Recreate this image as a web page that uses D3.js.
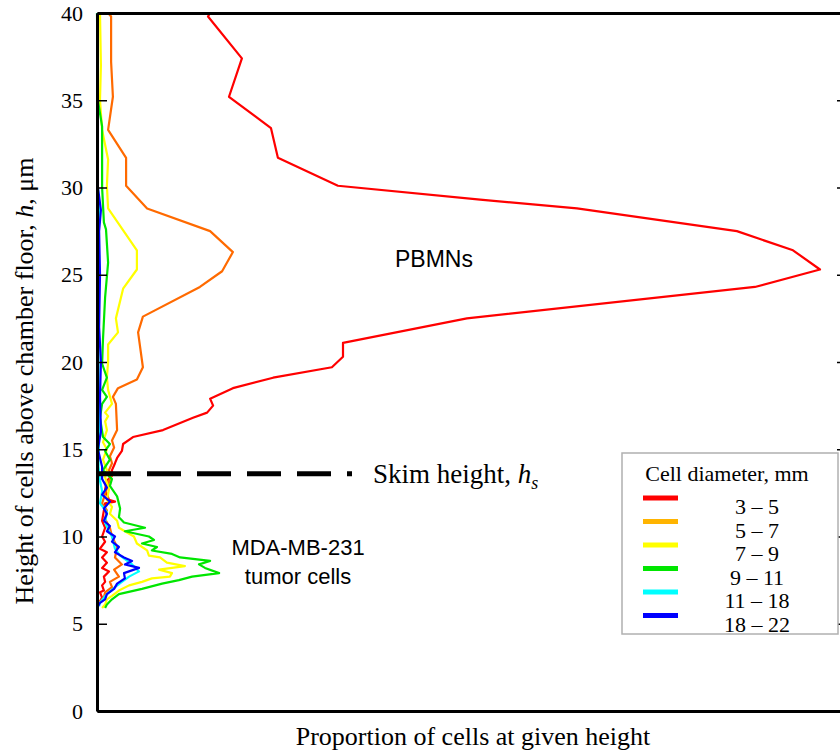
<!DOCTYPE html>
<html>
<head>
<meta charset="utf-8">
<title>Cell height distribution</title>
<script src="https://cdn.jsdelivr.net/npm/d3@7"></script>
<style>
  body { margin: 0; background: #fff; }
  .serif { font-family: "Liberation Serif", "Times New Roman", serif; }
  .sans { font-family: "Liberation Sans", Arial, sans-serif; }
</style>
</head>
<body>
<script>
// series: [height (um), proportion (%)]
var red = [[40,3.77],[39.8,3.7],[37.4,4.83],[35.2,4.4],[33.4,5.8],[31.7,6.03],[30.1,8.03],[29.3,12.77],[28.8,16.0],[27.5,21.33],[26.4,23.2],[25.3,24.1],[24.3,21.93],[22.5,12.33],[21.1,8.2],[20.3,8.2],[19.7,7.83],[19.1,5.87],[18.5,4.53],[17.9,3.77],[17.5,3.87],[17.1,3.67],[16.8,3.2],[16.1,2.2],[15.7,1.2],[15.3,0.87],[14.9,0.83],[14.5,0.67],[14.2,0.6],[13.8,0.5],
  [13.5,0.5],[13.2,0.33],[12.7,0.27],[12.1,0.4],[12.0,0.6],[11.9,0.27],[11.5,0.23],[10.9,0.17],[10.5,0.27],[10.0,0.17],[9.7,0.27],[9.3,0.1],[9.1,0.33],[8.8,0.17],[8.5,0.33],[8.2,0.17],[8.0,0.4],[7.7,0.23],[7.4,0.27],[7.2,0.17],[6.9,0.23],[6.8,0.1],[6.5,0.17],[6.2,0.07],[5.9,0]];
var orange = [[40,0.37],[39.8,0.47],[37.2,0.47],[35.2,0.53],[33.3,0.37],[31.7,0.97],[30.1,0.97],[28.8,1.67],[27.5,3.77],[26.3,4.53],[25.2,4.17],[24.3,3.43],[22.6,1.53],[21.7,1.37],[19.7,1.53],[19.0,1.33],[18.5,0.7],[18.0,0.53],[17.6,0.63],[16.1,0.67],[15.5,0.5],[15.1,0.57],[14.6,0.43],[14.2,0.5],[13.8,0.4],[13.5,0.5],
  [13.3,0.43],[11.9,0.17],[11.5,0.33],[11.0,0.27],[10.5,0.43],[10.0,0.5],[9.4,0.67],[8.8,0.6],[8.4,0.83],[8.1,0.57],[7.7,0.73],[7.4,0.43],[7.1,0.5],[6.8,0.27],[6.5,0.23],[6.2,0.07]];
var yellow = [[40,0.1],[37,0.13],[35,0.1],[33.3,0.17],[31.6,0.37],[30.1,0.33],[28.8,0.37],[26.4,1.33],[25.3,1.33],[24.2,0.87],[22.5,0.63],[21.7,0.7],[21.0,0.37],[20.0,0.37],[19.1,0.33],[18.4,0.37],[17.6,0.5],[17.1,0.27],[16.9,0.37],[16.6,0.27],[16.1,0.33],[15.4,0.2],[15.0,0.33],[14.4,0.2],[13.8,0.33],
  [13.4,0.27],[12.7,0.4],[12.1,0.33],[11.7,0.5],[11.3,0.43],[10.9,0.67],[10.5,0.73],[10.3,0.93],[10.0,1.23],[9.6,1.33],[9.2,1.67],[8.9,1.73],[8.8,2.1],[8.5,2.33],[8.3,2.93],[8.1,2.07],[7.9,2.5],[7.7,2.43],[7.6,1.83],[7.4,1.5],[7.2,1.07],[6.9,0.73],[6.6,0.5],[6.4,0.33],[6.1,0.27],[5.9,0.17]];
var green = [[40,0],[35,0.03],[33.5,0.17],[30,0.17],[28,0.23],[27.6,0.3],[25.7,0.37],[23.7,0.27],[21.3,0.2],[19.9,0.17],[19.1,0.33],[18.4,0.17],[18.0,0.33],[17.6,0.17],[16.8,0.1],[15.7,0.2],[15.3,0.43],[14.9,0.27],[14.4,0.43],[13.8,0.2],
  [13.3,0.5],[12.9,0.43],[12.3,0.67],[11.6,0.77],[11.1,0.73],[10.8,0.9],[10.5,1.6],[10.3,0.93],[10.0,1.73],[9.8,1.9],[9.6,1.5],[9.4,2.0],[9.2,1.83],[9.0,2.5],[8.8,2.77],[8.6,3.77],[8.4,3.4],[8.2,3.6],[7.9,4.07],[7.7,3.17],[7.5,2.73],[7.3,2.17],[7.0,1.5],[6.7,0.73],[6.4,0.5],[6.1,0.33],[5.9,0.27]];
var cyan = [[40,0.03],[30,0.03],[28.7,0.07],[27.3,0.03],[20,0.05],[16,0.07],[14,0.05],
  [13.2,0.1],[12.6,0.17],[11.9,0.1],[11.4,0.33],[10.8,0.27],[10.3,0.4],[10.0,0.5],[9.3,0.6],[8.9,0.77],[8.4,1.17],[8.0,1.4],[7.7,1.07],[7.4,0.83],[7.1,0.6],[6.8,0.4],[6.5,0.23],[6.2,0.1],[6.0,0.07]];
var blue = [[40,0.03],[35,0.03],[33,0.02],[30,0.03],[28.7,0.13],[27.5,0.07],[25,0.1],[22,0.07],[20,0.13],[18,0.1],[16,0.13],[15,0.03],[14,0.17],
  [13.3,0.17],[12.8,0.33],[12.4,0.17],[12.0,0.43],[11.6,0.23],[11.3,0.33],[10.9,0.23],[10.6,0.43],[10.3,0.33],[10.0,0.6],[9.7,0.5],[9.4,0.73],[9.1,0.6],[8.8,0.9],[8.6,1.17],[8.4,0.93],[8.2,1.4],[7.9,0.9],[7.6,0.93],[7.3,0.67],[7.0,0.57],[6.7,0.33],[6.4,0.27],[6.2,0.1],[5.9,0]];

var seriesList = [red, orange, yellow, green, cyan, blue];
var lineColors = ["#ff0000", "#ff6a00", "#ffff00", "#00e600", "#00ffff", "#0000ff"];
var legendColors = ["#ff0000", "#ffb400", "#ffff00", "#00e600", "#00ffff", "#0000ff"];
var legendLabels = ["3 \u2013 5", "5 \u2013 7", "7 \u2013 9", "9 \u2013 11", "11 \u2013 18", "18 \u2013 22"];
var yTicks = [0, 5, 10, 15, 20, 25, 30, 35, 40];
var skimHeight = 13.6;

var W = 840, H = 751;
var x = d3.scaleLinear().domain([0, 25]).range([97, 847]);
var y = d3.scaleLinear().domain([0, 40]).range([711, 13]);

var svg = d3.select("body").append("svg")
    .attr("width", W)
    .attr("height", H);

// curves
var line = d3.line()
    .x(function(d) { return x(d[1]); })
    .y(function(d) { return y(d[0]); });

seriesList.forEach(function(s, i) {
  svg.append("path")
      .datum(s)
      .attr("fill", "none")
      .attr("stroke", lineColors[i])
      .attr("stroke-width", 2.2)
      .attr("stroke-linejoin", "round")
      .attr("d", line);
});

// skim height dashed line
svg.append("line")
    .attr("x1", x(0)).attr("x2", 352)
    .attr("y1", y(skimHeight)).attr("y2", y(skimHeight))
    .attr("stroke", "#000")
    .attr("stroke-width", 5)
    .attr("stroke-dasharray", "34,16");

var skim = svg.append("text")
    .attr("class", "serif")
    .attr("x", 373).attr("y", y(skimHeight) + 9)
    .attr("font-size", 27);
skim.append("tspan").text("Skim height, ");
skim.append("tspan").attr("font-style", "italic").text("h");
skim.append("tspan").attr("font-style", "italic").attr("font-size", 18).attr("dy", 6).text("s");

// axes
var yAxis = svg.append("g")
    .attr("transform", "translate(" + x(0) + ",0)")
    .call(d3.axisLeft(y).tickValues(yTicks).tickSizeInner(-10).tickSizeOuter(0).tickPadding(14));
yAxis.select(".domain").attr("stroke-width", 3);
yAxis.selectAll(".tick line").attr("stroke-width", 1.5);
yAxis.selectAll(".tick text")
    .attr("class", "serif")
    .attr("font-size", 22)
    .attr("fill", "#000");

var yAxisR = svg.append("g")
    .attr("transform", "translate(847,0)")
    .call(d3.axisRight(y).tickValues([5, 10, 15, 20, 25, 30, 35]).tickSizeInner(-10).tickSizeOuter(0).tickFormat(""));
yAxisR.select(".domain").remove();
yAxisR.selectAll(".tick line").attr("stroke-width", 1.5);

var xAxis = svg.append("g")
    .attr("transform", "translate(0," + y(0) + ")")
    .call(d3.axisBottom(x).tickValues([]).tickSizeOuter(0));
xAxis.select(".domain").attr("stroke-width", 3);

var xTop = svg.append("g")
    .attr("transform", "translate(0," + y(40) + ")")
    .call(d3.axisTop(x).tickValues([]).tickSizeOuter(0));
xTop.select(".domain").attr("stroke-width", 3);

// axis titles
svg.append("text")
    .attr("class", "serif")
    .attr("text-anchor", "middle")
    .attr("x", 473).attr("y", 745)
    .attr("font-size", 26)
    .text("Proportion of cells at given height");

var yTitle = svg.append("text")
    .attr("class", "serif")
    .attr("text-anchor", "middle")
    .attr("transform", "translate(33,381) rotate(-90)")
    .attr("font-size", 26);
yTitle.append("tspan").text("Height of cells above chamber floor, ");
yTitle.append("tspan").attr("font-style", "italic").text("h");
yTitle.append("tspan").text(", \u03bcm");

// annotations
svg.append("text")
    .attr("class", "sans")
    .attr("text-anchor", "middle")
    .attr("x", 434).attr("y", 267)
    .attr("font-size", 23)
    .text("PBMNs");

svg.append("text")
    .attr("class", "sans")
    .attr("text-anchor", "middle")
    .attr("x", 298).attr("y", 555)
    .attr("font-size", 22)
    .text("MDA-MB-231");
svg.append("text")
    .attr("class", "sans")
    .attr("text-anchor", "middle")
    .attr("x", 298).attr("y", 584)
    .attr("font-size", 22)
    .text("tumor cells");

// legend
var lg = svg.append("g").attr("transform", "translate(622,453)");
lg.append("rect")
    .attr("width", 216).attr("height", 181)
    .attr("fill", "#fff")
    .attr("stroke", "#b0b0b0")
    .attr("stroke-width", 1.5);
lg.append("text")
    .attr("class", "serif")
    .attr("text-anchor", "middle")
    .attr("x", 105).attr("y", 28)
    .attr("font-size", 22)
    .text("Cell diameter, mm");
legendLabels.forEach(function(lab, i) {
  var ly = 45 + i * 23.5;
  lg.append("line")
      .attr("x1", 21).attr("x2", 56)
      .attr("y1", ly).attr("y2", ly)
      .attr("stroke", legendColors[i])
      .attr("stroke-width", 5);
  lg.append("text")
      .attr("class", "serif")
      .attr("text-anchor", "middle")
      .attr("x", 135).attr("y", ly + 16)
      .attr("font-size", 22)
      .text(lab);
});
</script>
</body>
</html>
